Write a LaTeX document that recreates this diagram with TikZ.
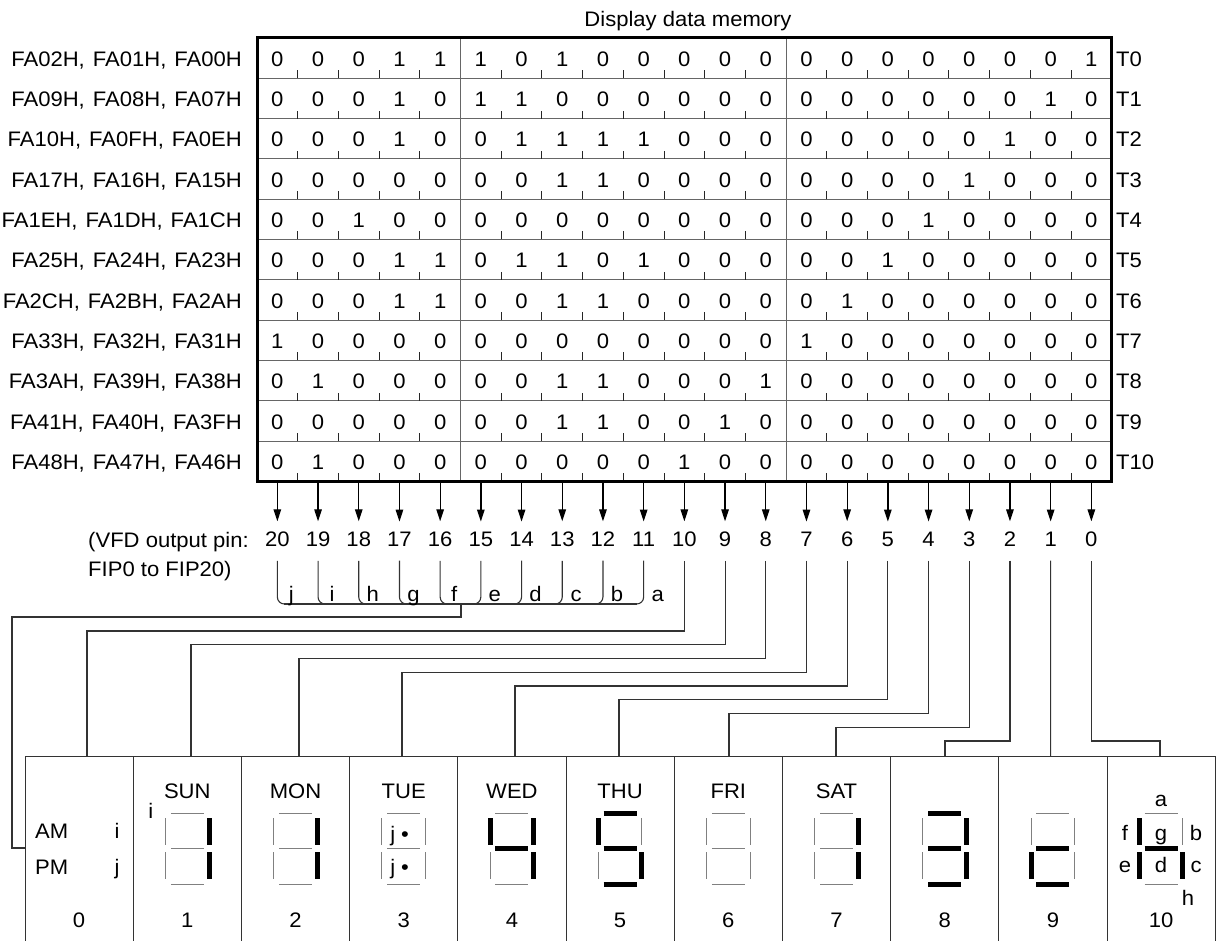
\documentclass[tikz,border=0pt]{standalone}
\usepackage{fontspec}
\setmainfont{Liberation Sans}[FakeStretch=1.05]
\usetikzlibrary{arrows.meta}
\newcommand\lbl[3]{#1,\hspace{8pt}#2,\hspace{8pt}#3}
\newcommand\sdigit[8]{%
 \draw[s#2] (#1-16.5,813.5) -- (#1+16.5,813.5);
 \draw[s#3] (#1+21.8,818) -- (#1+21.8,845);
 \draw[s#4] (#1+21.8,852) -- (#1+21.8,879);
 \draw[s#5] (#1-16.5,884) -- (#1+16.5,884);
 \draw[s#6] (#1-21.8,852) -- (#1-21.8,879);
 \draw[s#7] (#1-21.8,818) -- (#1-21.8,845);
 \draw[s#8] (#1-16.5,848.5) -- (#1+16.5,848.5);
}
\begin{document}
\begin{tikzpicture}[x=1pt,y=-1pt,
  txt/.style={inner sep=0pt, font=\fontsize{21}{25}\selectfont},
  rule/.style={line width=1pt, draw=black!60},
  tick/.style={line width=1pt, draw=black!85},
  border/.style={line width=3pt},
  wire/.style={line width=1.1pt, draw=black!80},
  arr/.style={line width=1.3pt, -{Triangle[length=12pt,width=7.5pt]}},
  s0/.style={line width=1pt, draw=black!50},
  s1/.style={line width=5pt, draw=black},
  boxline/.style={line width=1pt, draw=black!80}]
\useasboundingbox (0,0) rectangle (1220,941);
% title
\node[txt, anchor=base] (title) at (688,27) {Display data memory};
% table grid
\foreach \r in {1,...,10} \draw[rule] (257,38+40.3*\r) -- (1111.7,38+40.3*\r);
\foreach \j in {5,13} \draw[rule] (257+40.7*\j,38) -- (257+40.7*\j,481.3);
\foreach \r in {0,...,10} \foreach \j in {1,2,3,4,6,7,8,9,10,11,12,14,15,16,17,18,19,20}
  \draw[tick] (257+40.7*\j,78.3+40.3*\r) -- ++(0,-8);
\draw[border] (257,38) rectangle (1111.7,481.3);
% rows
\foreach \r/\lab/\bits in {
 0/{\lbl{FA02H}{FA01H}{FA00H}}/{0,0,0,1,1,1,0,1,0,0,0,0,0,0,0,0,0,0,0,0,1},
 1/{\lbl{FA09H}{FA08H}{FA07H}}/{0,0,0,1,0,1,1,0,0,0,0,0,0,0,0,0,0,0,0,1,0},
 2/{\lbl{FA10H}{FA0FH}{FA0EH}}/{0,0,0,1,0,0,1,1,1,1,0,0,0,0,0,0,0,0,1,0,0},
 3/{\lbl{FA17H}{FA16H}{FA15H}}/{0,0,0,0,0,0,0,1,1,0,0,0,0,0,0,0,0,1,0,0,0},
 4/{\lbl{FA1EH}{FA1DH}{FA1CH}}/{0,0,1,0,0,0,0,0,0,0,0,0,0,0,0,0,1,0,0,0,0},
 5/{\lbl{FA25H}{FA24H}{FA23H}}/{0,0,0,1,1,0,1,1,0,1,0,0,0,0,0,1,0,0,0,0,0},
 6/{\lbl{FA2CH}{FA2BH}{FA2AH}}/{0,0,0,1,1,0,0,1,1,0,0,0,0,0,1,0,0,0,0,0,0},
 7/{\lbl{FA33H}{FA32H}{FA31H}}/{1,0,0,0,0,0,0,0,0,0,0,0,0,1,0,0,0,0,0,0,0},
 8/{\lbl{FA3AH}{FA39H}{FA38H}}/{0,1,0,0,0,0,0,1,1,0,0,0,1,0,0,0,0,0,0,0,0},
 9/{\lbl{FA41H}{FA40H}{FA3FH}}/{0,0,0,0,0,0,0,1,1,0,0,1,0,0,0,0,0,0,0,0,0},
 10/{\lbl{FA48H}{FA47H}{FA46H}}/{0,1,0,0,0,0,0,0,0,0,1,0,0,0,0,0,0,0,0,0,0}} {
  \node[txt, anchor=base east] (lab\r) at (242,66.4+40.3*\r) {\lab};
  \node[txt, anchor=base west] (t\r) at (1116,66.4+40.3*\r) {T\r};
  \foreach \b [count=\k from 0] in \bits {
    \node[txt, anchor=base] (b\r-\k) at (257+40.7*\k+20.35,66.4+40.3*\r) {\b};
  }
}
% pins and arrows
\foreach \k in {0,...,20} {
  \pgfmathtruncatemacro\p{20-\k}
  \coordinate (at\p) at (257+40.7*\k+20.35,481.3);
  \node[txt, inner ysep=10.5pt, anchor=base] (pin\p) at (257+40.7*\k+20.35,546.7) {\p};
  \draw[arr] (at\p) -- (pin\p.north);
}
\node[txt, anchor=base west] (vfd1) at (88,547) {(VFD output pin:};
\node[txt, anchor=base west] (vfd2) at (88,576) {FIP0 to FIP20)};
% segment bracket
\coordinate (bus) at (0,604);
\foreach \p in {20,19,18,17,16}
  \draw[wire, rounded corners=7pt] ([yshift=-3.3pt]pin\p.south) -- (pin\p |- bus) -- ++(14,0);
\foreach \p in {15,14,13,12,11}
  \draw[wire, rounded corners=7pt] ([yshift=-3.3pt]pin\p.south) -- (pin\p |- bus) -- ++(-14,0);
\draw[wire] ([xshift=7pt]pin20 |- bus) -- ([xshift=-7pt]pin11 |- bus);
\foreach \p/\l in {20/j,19/i,18/h,17/g,16/f,15/e,14/d,13/c,12/b,11/a}
  \node[txt, anchor=base] (seg\l) at ([xshift=14pt]pin\p |- 0,601) {\l};
% f/e group to AM/PM
\coordinate (fm) at (461,604);
\coordinate (fl) at (12,617);
\coordinate (amp) at (25,848);
\draw[wire] (fm) |- (fl) |- (amp);
% grid connectors
\foreach \p/\bx/\dx/\ly in {10/0/87/631, 9/1/191/644.75, 8/2/299/658.5, 7/3/402/672.25,
   6/4/515/686, 5/5/619/699.75, 4/6/729/713.5, 3/7/836/727.25, 2/8/945/741, 0/10/1160/741} {
  \coordinate (bt\bx) at (\dx,756);
  \coordinate (lv\p) at (0,\ly);
  \draw[wire] ([yshift=-3.3pt]pin\p.south) -- (pin\p |- lv\p) -| (bt\bx);
}
\coordinate (bt9) at (1050.65,756);
\draw[wire] ([yshift=-3.3pt]pin1.south) -- (bt9);
% display boxes
\draw[boxline] (25,756) -- (1215.2,756);
\foreach \i in {0,...,11} \draw[boxline] (25+108.2*\i,756) -- (25+108.2*\i,941);
\foreach \i in {0,...,10}
  \node[txt, anchor=base] (num\i) at (79.1+108.2*\i,927) {\i};
\foreach \i/\d in {1/SUN,2/MON,3/TUE,4/WED,5/THU,6/FRI,7/SAT}
  \node[txt, anchor=base] (day\i) at (79.1+108.2*\i,798.3) {\d};
% box 0
\node[txt, anchor=base west] (am) at (35,838.3) {AM};
\node[txt, anchor=base] (ami) at (117,838.3) {i};
\node[txt, anchor=base west] (pm) at (35,874) {PM};
\node[txt, anchor=base] (pmj) at (117,874) {j};
% box 1
\node[txt, anchor=base] (sunI) at (150.7,818) {i};
% digits
\sdigit{187.3}{0}{1}{1}{0}{0}{0}{0}
\sdigit{295.5}{0}{1}{1}{0}{0}{0}{0}
\sdigit{403.7}{0}{0}{0}{0}{0}{0}{0}
\sdigit{511.9}{0}{1}{1}{0}{0}{1}{1}
\sdigit{620.1}{1}{0}{1}{1}{0}{1}{1}
\sdigit{728.3}{0}{0}{0}{0}{0}{0}{0}
\sdigit{836.5}{0}{1}{1}{0}{0}{0}{0}
\sdigit{944.7}{1}{1}{1}{1}{0}{0}{1}
\sdigit{1052.9}{0}{0}{0}{1}{1}{0}{1}
\sdigit{1161.1}{0}{0}{1}{0}{1}{1}{1}
% box 3 marks
\node[txt, anchor=base] (tj1) at (392.7,841) {j};
\node[txt, anchor=base] (td1) at (405,841) {•};
\node[txt, anchor=base] (tj2) at (392.7,874.5) {j};
\node[txt, anchor=base] (td2) at (405,874.5) {•};
% box 10 labels
\node[txt, anchor=base] (la) at (1161,806.7) {a};
\node[txt, anchor=base] (lf) at (1125,840) {f};
\node[txt, anchor=base] (lg) at (1161,840) {g};
\node[txt, anchor=base] (lb) at (1196,840) {b};
\node[txt, anchor=base] (le) at (1125,872) {e};
\node[txt, anchor=base] (ld) at (1161,872) {d};
\node[txt, anchor=base] (lc) at (1196,872) {c};
\node[txt, anchor=base] (lh) at (1188,905) {h};
\end{tikzpicture}
\end{document}
